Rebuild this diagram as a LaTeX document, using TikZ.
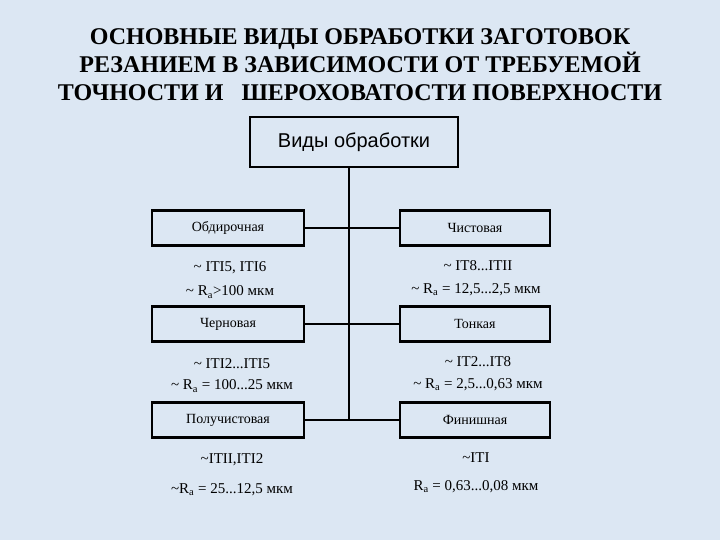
\documentclass[tikz,border=0pt]{standalone}
\usepackage{fontspec}
\setmainfont{Liberation Serif}
\newfontfamily\boxsans{Liberation Sans}
\definecolor{bg}{HTML}{DCE7F3}
\begin{document}
\begin{tikzpicture}[x=1pt,y=-1pt,
  bx/.style={draw,line width=2.2pt,minimum width=152pt,minimum height=35pt,font=\fontsize{14}{16}\selectfont,inner sep=0pt},
  lbl/.style={font=\fontsize{15}{17}\selectfont,inner sep=0pt},
  ln/.style={line width=2pt}]
\fill[bg] (0,0) rectangle (720,540);
\useasboundingbox (0,0) rectangle (720,540);
\node[font=\bfseries\fontsize{24}{28}\selectfont,align=center] (title) at (360,65) {ОСНОВНЫЕ ВИДЫ ОБРАБОТКИ ЗАГОТОВОК\\РЕЗАНИЕМ В ЗАВИСИМОСТИ ОТ ТРЕБУЕМОЙ\\ТОЧНОСТИ И\ \ \ ШЕРОХОВАТОСТИ ПОВЕРХНОСТИ};
\node[draw,line width=2.5pt,minimum width=208pt,minimum height=50pt,font=\boxsans\fontsize{20}{22}\selectfont] (top) at (354,142) {Виды обработки};
\node[bx] (a) at (228,228) {Обдирочная};
\node[bx] (b) at (228,324) {Черновая};
\node[bx] (c) at (228,420) {Получистовая};
\node[bx,minimum width=150pt] (d) at (475,228) {Чистовая};
\node[bx,minimum width=150pt] (e) at (475,324) {Тонкая};
\node[bx,minimum width=150pt] (f) at (475,420) {Финишная};
\coordinate (t1) at (349,228);
\coordinate (t2) at (349,324);
\coordinate (t3) at (349,420);
\draw[ln] (top.south -| t1) -- (t3);
\draw[ln] (a) -- (d);
\draw[ln] (b) -- (e);
\draw[ln] (c) -- (f);
\node[lbl] (a1) at (230,268) {\textasciitilde\ ITI5, ITI6};
\node[lbl] (a2) at (230,292) {\textasciitilde\ R\textsubscript{a}>100 мкм};
\node[lbl] (d1) at (478,266) {\textasciitilde\ IT8...ITII};
\node[lbl] (d2) at (476,290) {\textasciitilde\ R\textsubscript{a} = 12,5...2,5 мкм};
\node[lbl] (b1) at (232,364) {\textasciitilde\ ITI2...ITI5};
\node[lbl] (b2) at (232,386) {\textasciitilde\ R\textsubscript{a} = 100...25 мкм};
\node[lbl] (e1) at (478,362) {\textasciitilde\ IT2...IT8};
\node[lbl] (e2) at (478,385) {\textasciitilde\ R\textsubscript{a} = 2,5...0,63 мкм};
\node[lbl] (c1) at (232,460) {\textasciitilde ITII,ITI2};
\node[lbl] (c2) at (232,490) {\textasciitilde R\textsubscript{a} = 25...12,5 мкм};
\node[lbl] (f1) at (476,458) {\textasciitilde ITI};
\node[lbl] (f2) at (476,487) {R\textsubscript{a} = 0,63...0,08 мкм};
\end{tikzpicture}
\end{document}
